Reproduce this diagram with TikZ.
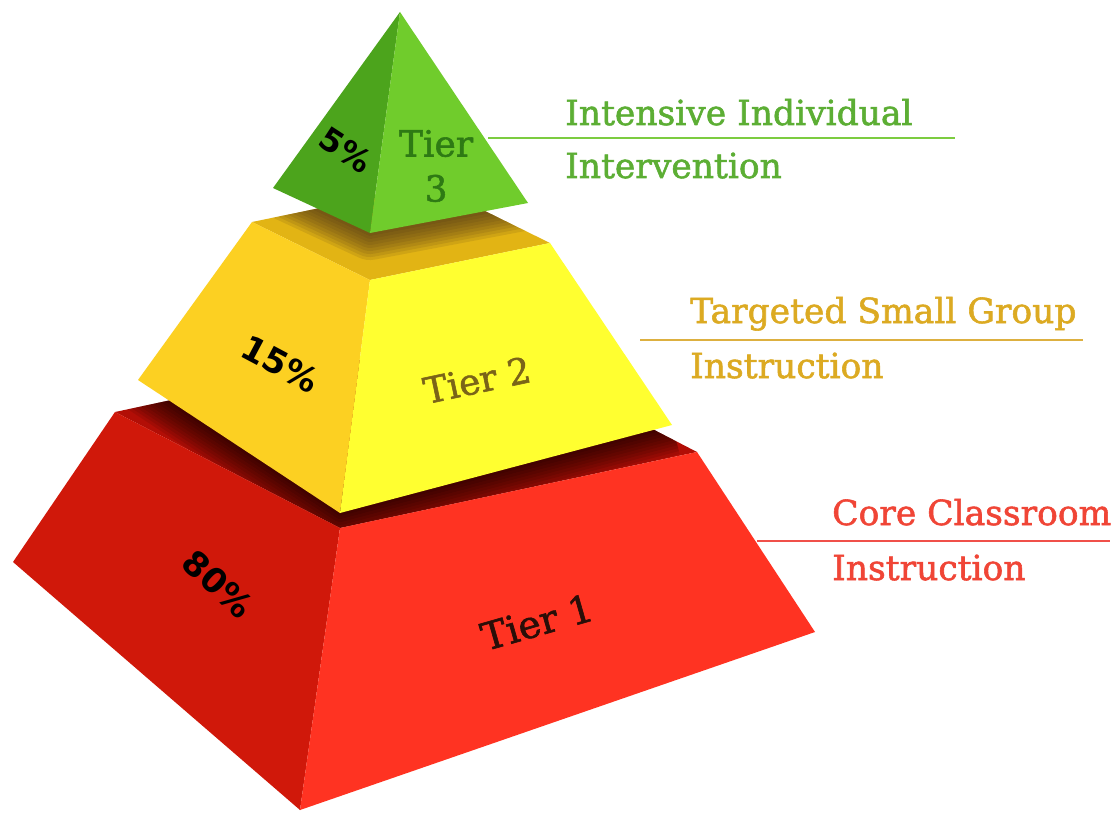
\documentclass[tikz,border=0pt]{standalone}
\usepackage{fontspec}
\setmainfont{DejaVu Serif}
\newfontfamily\pctfont{DejaVu Sans}
\newfontfamily\labfont[FakeBold=1.6]{DejaVu Serif}
\newfontfamily\tierfont[FakeBold=1.5]{DejaVu Serif}
\definecolor{redtop}{HTML}{B20E06}
\definecolor{redleft}{HTML}{D0180A}
\definecolor{redright}{HTML}{FF3322}
\definecolor{yeltop}{HTML}{E2B414}
\definecolor{yelleft}{HTML}{FCD022}
\definecolor{yelright}{HTML}{FFFF30}
\definecolor{grnleft}{HTML}{4CA41C}
\definecolor{grnright}{HTML}{70CC2C}
\definecolor{glab}{HTML}{5CAE34}
\definecolor{ylab}{HTML}{DCAA22}
\definecolor{rlab}{HTML}{F04536}
\definecolor{gline}{HTML}{7CCC40}
\definecolor{yline}{HTML}{DDB040}
\definecolor{rline}{HTML}{F0504A}
\definecolor{t3col}{HTML}{2E7A14}
\definecolor{t2col}{HTML}{7A6418}
\definecolor{t1col}{HTML}{2A0E08}
\begin{document}
\begin{tikzpicture}[x=1pt,y=-1pt,
  lab/.style={anchor=base west,inner sep=0pt,font=\labfont\fontsize{34.5}{40}\selectfont},
  tier/.style={inner sep=0pt,font=\tierfont\fontsize{36}{46}\selectfont},
  pct/.style={inner sep=0pt,font=\fontsize{34}{40}\selectfont\pctfont\bfseries,text=black},
  conn/.style={line width=2pt}]
\useasboundingbox[fill=white] (0,0) rectangle (1115,813);
% coordinates
\coordinate (RTL) at (115,412); \coordinate (RTF) at (340,528);
\coordinate (RTR) at (697,452); \coordinate (RTB) at (472,336);
\coordinate (RBL) at (13,562);  \coordinate (RBF) at (300,810);
\coordinate (RBR) at (815,632);
\coordinate (YTL) at (252,222); \coordinate (YTF) at (370,280);
\coordinate (YTR) at (550,243); \coordinate (YTB) at (432,185);
\coordinate (YBL) at (138,380); \coordinate (YBF) at (340,513);
\coordinate (YBR) at (672,425);
\coordinate (GA) at (400,12);   \coordinate (GL) at (273,188);
\coordinate (GF) at (370,233);  \coordinate (GR) at (528,203);
% red block
\fill[redtop] (RTL)--(RTB)--(RTR)--(RTF)--cycle;
\begin{scope}
  \clip (RTL)--(RTB)--(RTR)--(RTF)--cycle;
  \foreach \w in {6,12,...,60}
    \draw[line width=\w pt,black,opacity=0.09,line join=round] (YBL)--(YBF)--(YBR);
\end{scope}
\fill[redleft] (RTL)--(RTF)--(RBF)--(RBL)--cycle;
\fill[redright] (RTF)--(RTR)--(RBR)--(RBF)--cycle;
% yellow block
\fill[yeltop] (YTL)--(YTB)--(YTR)--(YTF)--cycle;
\begin{scope}
  \clip (YTL)--(YTB)--(YTR)--(YTF)--cycle;
  \foreach \w in {6,12,...,54}
    \draw[line width=\w pt,black!60!brown,opacity=0.12,line join=round] (GL)--(GF)--(GR);
\end{scope}
\fill[yelleft] (YTL)--(YTF)--(YBF)--(YBL)--cycle;
\fill[yelright] (YTF)--(YTR)--(YBR)--(YBF)--cycle;
% green pyramid
\fill[grnleft] (GA)--(GL)--(GF)--cycle;
\fill[grnright] (GA)--(GF)--(GR)--cycle;
% face texts
\node[pct,rotate=-33,font=\fontsize{32}{38}\selectfont\pctfont\bfseries] (p5) at (346,150) {5\%};
\node[tier,text=t3col,align=center,font=\tierfont\fontsize{36}{45}\selectfont] (t3) at (436,166) {Tier\\3};
\node[pct,rotate=-28] (p15) at (280,364) {15\%};
\node[tier,text=t2col,rotate=12] (t2) at (477,380) {Tier 2};
\node[pct,rotate=-43] (p80) at (218,584) {80\%};
\node[tier,text=t1col,rotate=16,font=\tierfont\fontsize{38}{46}\selectfont] (t1) at (537,622) {Tier 1};
% labels and connectors
\coordinate (g0) at (488,138); \coordinate (g1) at (955,138);
\draw[conn,gline] (g0) -- (g1);
\node[lab,text=glab] (g2) at (565,125) {Intensive Individual};
\node[lab,text=glab] (g3) at (565,178) {Intervention};
\coordinate (y0) at (640,340); \coordinate (y1) at (1083,340);
\draw[conn,yline] (y0) -- (y1);
\node[lab,text=ylab] (y2) at (690,323) {Targeted Small Group};
\node[lab,text=ylab] (y3) at (690,378) {Instruction};
\coordinate (r0) at (757,541); \coordinate (r1) at (1110,541);
\draw[conn,rline] (r0) -- (r1);
\node[lab,text=rlab] (r2) at (832,525) {Core Classroom};
\node[lab,text=rlab] (r3) at (832,580) {Instruction};
\end{tikzpicture}
\end{document}
